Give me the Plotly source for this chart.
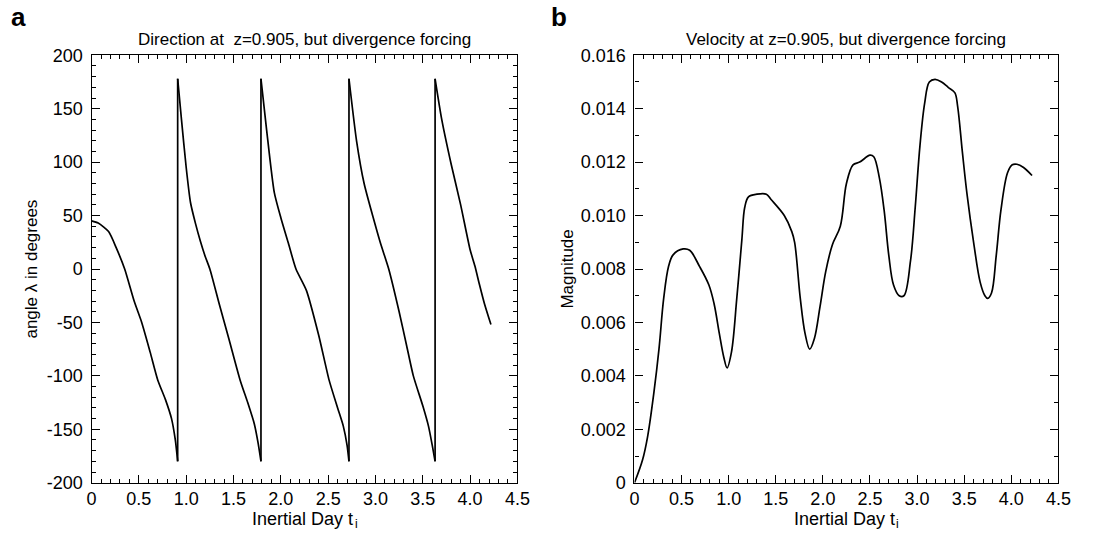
import plotly.graph_objects as go
from plotly.subplots import make_subplots

# ---- data: panel a (direction, degrees) ----
dir_t = [0.00, 0.07, 0.18, 0.26, 0.35, 0.45, 0.53, 0.62, 0.70, 0.78, 0.845, 0.885, 0.91,
         0.91, 0.95, 1.00, 1.046, 1.10, 1.15, 1.20, 1.25, 1.35, 1.45, 1.57, 1.65, 1.72, 1.76, 1.79,
         1.79, 1.85, 1.93, 2.00, 2.08, 2.16, 2.27, 2.40, 2.51, 2.60, 2.66, 2.70, 2.72,
         2.72, 2.80, 2.88, 2.97, 3.05, 3.14, 3.25, 3.33, 3.40, 3.50, 3.56, 3.60, 3.63,
         3.63, 3.70, 3.80, 3.90, 4.00, 4.05, 4.10, 4.15, 4.22]
dir_v = [45, 43, 35, 20, 0, -30, -50, -78, -104, -122, -140, -160, -180,
         178, 140, 95, 62, 42, 26, 12, 0, -33, -65, -104, -125, -145, -163, -180,
         178, 130, 72, 48, 24, 0, -20, -62, -104, -130, -147, -165, -180,
         178, 120, 80, 50, 25, 0, -40, -72, -100, -128, -147, -165, -180,
         178, 140, 98, 60, 18, 3, -15, -32, -52]

# ---- data: panel b (velocity magnitude) ----
vel_t = [0.00, 0.086, 0.138, 0.207, 0.26, 0.31, 0.362, 0.41, 0.517, 0.586, 0.69, 0.79, 0.845,
         0.90, 0.948, 0.983, 1.03, 1.086, 1.14, 1.17, 1.21, 1.30, 1.40, 1.45, 1.59, 1.67, 1.70,
         1.76, 1.81, 1.86, 1.91, 1.97, 2.03, 2.10, 2.185, 2.25, 2.32, 2.39, 2.50, 2.54, 2.60,
         2.65, 2.70, 2.75, 2.81, 2.86, 2.93, 2.98, 3.03, 3.08, 3.13, 3.19, 3.26, 3.33, 3.40,
         3.43, 3.48, 3.53, 3.60, 3.67, 3.72, 3.75, 3.79, 3.84, 3.89, 3.96, 4.01, 4.06, 4.13, 4.22]
vel_v = [0.0, 0.00086, 0.0017, 0.0034, 0.0050, 0.0069, 0.0081, 0.00853, 0.00875, 0.0087, 0.0081,
         0.0074, 0.0067, 0.0056, 0.0047, 0.0043, 0.0049, 0.0069, 0.0091, 0.0103, 0.0107, 0.0108,
         0.0108, 0.0106, 0.0100, 0.0094, 0.0090, 0.0069, 0.0056, 0.0050, 0.0054, 0.0066, 0.0079,
         0.0089, 0.0096, 0.0112, 0.0119, 0.0120, 0.01226, 0.0122, 0.0114, 0.0102, 0.0085, 0.0074,
         0.0070, 0.0070, 0.0083, 0.0103, 0.0126, 0.0142, 0.0150, 0.0151, 0.0150, 0.0148, 0.0146,
         0.0141, 0.0124, 0.0108, 0.0090, 0.0075, 0.0070, 0.0069, 0.0071, 0.0085, 0.0102, 0.0116,
         0.0119, 0.01192, 0.0118, 0.0115]

x_ticks = [0, 0.5, 1.0, 1.5, 2.0, 2.5, 3.0, 3.5, 4.0, 4.5]
x_ticktext = ["0", "0.5", "1.0", "1.5", "2.0", "2.5", "3.0", "3.5", "4.0", "4.5"]
ya_ticks = [-200, -150, -100, -50, 0, 50, 100, 150, 200]
ya_ticktext = ["-200", "-150", "-100", "-50", "0", "50", "100", "150", "200"]
yb_ticks = [0, 0.002, 0.004, 0.006, 0.008, 0.010, 0.012, 0.014, 0.016]
yb_ticktext = ["0", "0.002", "0.004", "0.006", "0.008", "0.010", "0.012", "0.014", "0.016"]

W, H = 1095, 538
FONT = "Liberation Sans, Arial, Helvetica, sans-serif"
LW = 1.7

fig = make_subplots(rows=1, cols=2)

# split direction series into continuous pieces (at the wrap-around jumps)
seg_x, seg_y, jump_x, jump_y = [], [], [], []
for i, (t, v) in enumerate(zip(dir_t, dir_v)):
    if i > 0 and t == dir_t[i - 1]:
        seg_x.append(None)
        seg_y.append(None)
        jump_x += [dir_t[i - 1], t, None]
        jump_y += [dir_v[i - 1], v, None]
    seg_x.append(t)
    seg_y.append(v)

fig.add_trace(go.Scatter(x=seg_x, y=seg_y, mode="lines", line_shape="spline", connectgaps=False,
                         line=dict(color="black", width=LW, smoothing=0.6), showlegend=False), row=1, col=1)
fig.add_trace(go.Scatter(x=jump_x, y=jump_y, mode="lines", connectgaps=False,
                         line=dict(color="black", width=LW), showlegend=False), row=1, col=1)
fig.add_trace(go.Scatter(x=vel_t, y=vel_v, mode="lines", line_shape="spline",
                         line=dict(color="black", width=LW), showlegend=False), row=1, col=2)

# plot-area pixel positions
L1, R1, L2, R2, TOP, BOT = 88, 521, 640, 1071, 47, 491

common_axis = dict(showline=True, linecolor="black", linewidth=1.3, mirror="ticks",
                   ticks="inside", ticklen=8, tickwidth=1.2, tickcolor="black",
                   showgrid=False, zeroline=False,
                   tickfont=dict(family=FONT, size=18, color="black"))

fig.update_xaxes(**common_axis, range=[0, 4.5], tickvals=x_ticks, ticktext=x_ticktext,
                 minor=dict(ticks="inside", ticklen=4, dtick=0.1, tick0=0, tickcolor="black", tickwidth=1.1))
fig.update_xaxes(domain=[L1 / W, R1 / W], row=1, col=1)
fig.update_xaxes(domain=[L2 / W, R2 / W], row=1, col=2)

fig.update_yaxes(**common_axis, ticklabelstandoff=4)
fig.update_yaxes(range=[-200, 200], tickvals=ya_ticks, ticktext=ya_ticktext,
                 minor=dict(ticks="inside", ticklen=4, dtick=10, tick0=0, tickcolor="black", tickwidth=1.1),
                 domain=[1 - BOT / H, 1 - TOP / H], row=1, col=1)
fig.update_yaxes(range=[0, 0.016], tickvals=yb_ticks, ticktext=yb_ticktext,
                 minor=dict(ticks="inside", ticklen=4, dtick=0.001, tick0=0, tickcolor="black", tickwidth=1.1),
                 domain=[1 - BOT / H, 1 - TOP / H], row=1, col=2)

def txt(x, y, s, size=17, angle=0, anchor="center"):
    fig.add_annotation(xref="paper", yref="paper", x=x / W, y=1 - y / H, text=s, showarrow=False,
                       xanchor=anchor, yanchor="middle", textangle=angle,
                       font=dict(family=FONT, size=size, color="black"))

txt((L1 + R1) / 2, 31, "Direction at  z=0.905, but divergence forcing")
txt((L2 + R2) / 2, 31, "Velocity at z=0.905, but divergence forcing")
# x-axis titles: "Inertial Day t" with a subscript "i"
XT_SIZE = 18
XT_W = 5.613 * XT_SIZE  # rendered width of "Inertial Day t"
for cx in ((L1 + R1) / 2, (L2 + R2) / 2):
    txt(cx - 2, 529, "Inertial Day t", size=XT_SIZE)
    txt(cx - 2 + XT_W / 2 + 0.3, 534, "i", size=12, anchor="left")
txt(26, (TOP + BOT) / 2, "angle λ in degrees", angle=-90)
txt(571, (TOP + BOT) / 2, "Magnitude", angle=-90)
txt(4, 7, "<b>a</b>", size=26, anchor="left")
txt(553, 7, "<b>b</b>", size=26, anchor="left")

fig.update_layout(width=W, height=H, margin=dict(l=0, r=0, t=0, b=0),
                  paper_bgcolor="white", plot_bgcolor="white",
                  font=dict(family=FONT, size=17, color="black"))

fig.write_html("out.html")
